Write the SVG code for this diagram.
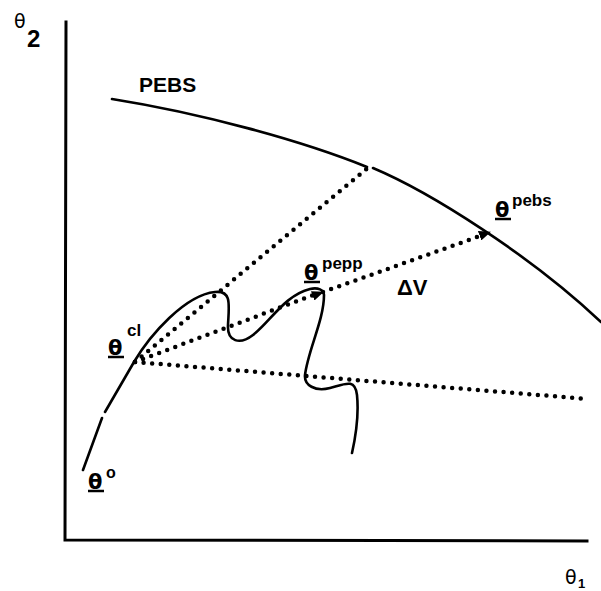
<svg xmlns="http://www.w3.org/2000/svg" width="601" height="591" viewBox="0 0 601 591">
<defs>
<style>
.ax{fill:none;stroke:#000;stroke-width:3;stroke-linecap:square}
.cv{fill:none;stroke:#000;stroke-width:2.6;stroke-linecap:round;stroke-linejoin:round}
.dt{fill:none;stroke:#000;stroke-width:4.5;stroke-linecap:round;stroke-dasharray:0 8.6}
.lb{font-family:"Liberation Sans",Arial,sans-serif;font-weight:bold;fill:#000}
.th{font-family:"DejaVu Sans","Liberation Sans",sans-serif;font-weight:bold;fill:#000}
.thn{font-family:"DejaVu Sans","Liberation Sans",sans-serif;font-weight:normal;fill:#000}
.ul{stroke:#000;stroke-width:2.5}
</style>
<marker id="ah" viewBox="0 0 12 10" refX="11" refY="5" markerWidth="12" markerHeight="10" markerUnits="userSpaceOnUse" orient="auto">
<path d="M0,0 L12,5 L0,10 Z" fill="#000"/>
</marker>
</defs>
<rect width="601" height="591" fill="#fff"/>
<g id="axes">
<path class="ax" d="M66,22 L65,540 L587,541"/>
</g>
<g id="theta2"><text class="thn" x="14" y="28" font-size="19">θ</text><text class="lb" x="27" y="47" font-size="24">2</text></g>
<g id="theta1"><text class="thn" x="565" y="584" font-size="19">θ</text><text class="lb" x="578" y="588" font-size="13">1</text></g>
<g id="pebs">
<path class="cv" d="M112,99 C200,113 300,140 367,167 M373,168 C430,192 530,255 601,322"/>
<text class="lb" x="139" y="92" font-size="21">PEBS</text>
</g>
<g id="trajectory">
<path class="cv" d="M83,470 L102,418 M105,412 L134,362 C150,335 185,295 215,292 C232,290 229,305 228,325 C227,342 240,345 253,335 C270,322 285,295 310,289 C318,287 324,290 324,295 C324,320 308,350 305,375 C304,385 315,392 330,388 C345,384 355,378 357,395 C359,415 356,435 352,453"/>
</g>
<g id="connectors">
<path class="dt" d="M135,362 L370,166"/>
<path class="dt" d="M135,362 L316,294"/>
<path class="dt" d="M323,292 L480,236"/>
<path class="dt" d="M135,362 L588,399"/>
<path d="M135,362 L323,292" fill="none" stroke="none" marker-end="url(#ah)"/>
<path d="M323,292 L490,232" fill="none" stroke="none" marker-end="url(#ah)"/>
</g>
<g id="theta-o"><text class="th" x="88" y="489" font-size="21">θ</text><line class="ul" x1="88" y1="491" x2="104" y2="491"/><text class="lb" x="106" y="478" font-size="16">o</text></g>
<g id="theta-cl"><text class="th" x="108" y="355" font-size="21">θ</text><line class="ul" x1="108" y1="357" x2="124" y2="357"/><text class="lb" x="127" y="336" font-size="17">cl</text></g>
<g id="theta-pepp"><text class="th" x="304" y="280" font-size="21">θ</text><line class="ul" x1="304" y1="282" x2="320" y2="282"/><text class="lb" x="322" y="269" font-size="17">pepp</text></g>
<g id="theta-pebs"><text class="th" x="495" y="217" font-size="21">θ</text><line class="ul" x1="495" y1="219" x2="511" y2="219"/><text class="lb" x="512" y="206" font-size="17">pebs</text></g>
<g id="dv"><text class="lb" x="397" y="295" font-size="22" font-weight="normal">ΔV</text></g>
</svg>
